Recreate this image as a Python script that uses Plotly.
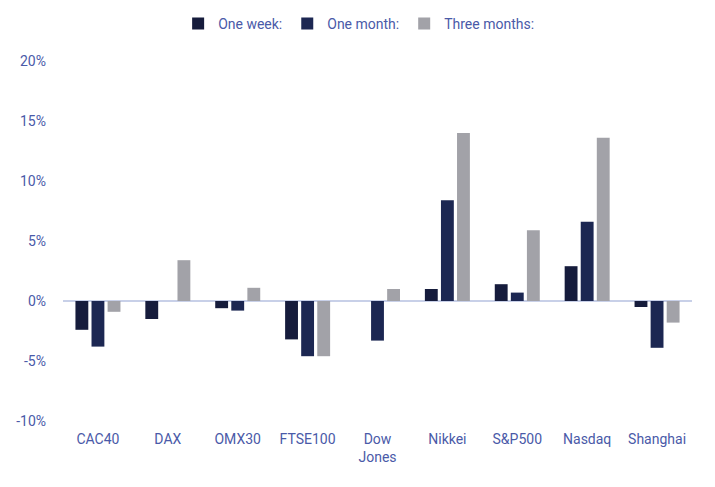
import plotly.graph_objects as go

categories = ["CAC40", "DAX", "OMX30", "FTSE100", "Dow<br>Jones", "Nikkei", "S&P500", "Nasdaq", "Shanghai"]
one_week = [-2.4, -1.5, -0.6, -3.2, 0.0, 1.0, 1.4, 2.9, -0.5]
one_month = [-3.8, 0.0, -0.8, -4.6, -3.3, 8.4, 0.7, 6.6, -3.9]
three_months = [-0.9, 3.4, 1.1, -4.6, 1.0, 14.0, 5.9, 13.6, -1.8]
y_ticks = [-10, -5, 0, 5, 10, 15, 20]

font_color = "#4a5aa8"
fig = go.Figure()
fig.add_trace(go.Bar(name="One week:", x=categories, y=one_week,
                     marker=dict(color="#161c3c", line=dict(width=0))))
fig.add_trace(go.Bar(name="One month:", x=categories, y=one_month,
                     marker=dict(color="#1c2752", line=dict(width=0))))
fig.add_trace(go.Bar(name="Three months:", x=categories, y=three_months,
                     marker=dict(color="#a2a2a8", line=dict(width=0))))

fig.update_layout(
    width=715, height=487,
    barmode="group", bargap=0.31, bargroupgap=0.2,
    plot_bgcolor="white", paper_bgcolor="white",
    font=dict(family="Roboto", size=14, color=font_color),
    margin=dict(l=55, r=31, t=53, b=74, autoexpand=False),
    legend=dict(orientation="h", x=0.47, xanchor="center", y=1.0, yanchor="top",
                yref="container", font=dict(size=14, color=font_color),
                itemwidth=30, traceorder="normal"),
    showlegend=True,
)
fig.update_xaxes(showgrid=False, showline=False, ticks="", ticklabelstandoff=8,
                 tickfont=dict(size=14, color=font_color))
fig.update_yaxes(range=[-10, 20], tickvals=y_ticks,
                 ticktext=[f"{v}%" for v in y_ticks],
                 showgrid=False, zeroline=True, zerolinecolor="#c8d0e8", zerolinewidth=1.5,
                 showline=False, ticks="", ticklabelstandoff=16,
                 tickfont=dict(size=14, color=font_color))

fig.write_html("out.html")
